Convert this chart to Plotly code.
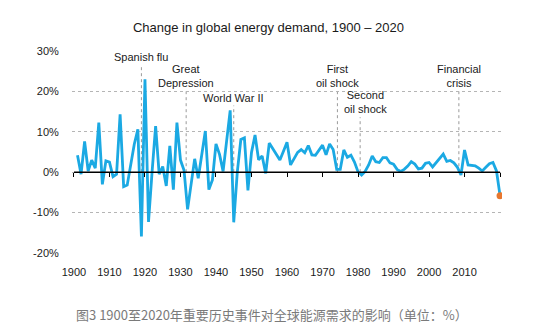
import plotly.graph_objects as go

years = list(range(1901, 2021))
change_pct = [
    4.2, -0.5, 7.6, 0.3, 3.0, 1.0, 12.3, -3.0, 2.8, 2.5,          # 1901-1910
    -1.1, -0.5, 14.3, -3.6, -3.2, 2.0, 7.0, 10.6, -15.9, 23.0,    # 1911-1920
    -12.3, 0.0, 11.4, -0.5, 1.4, -3.4, 6.5, -4.3, 12.3, 3.0,      # 1921-1930
    0.5, -9.2, -3.0, 3.3, -1.5, 4.0, 10.2, -4.3, -1.9, 7.0,       # 1931-1940
    4.4, 0.2, 7.5, 15.3, -12.4, 0.0, 8.1, 8.5, -4.5, 4.9,         # 1941-1950
    9.2, 3.1, 4.0, -0.3, 7.2, 5.8, 4.5, 3.0, 5.2, 7.4,            # 1951-1960
    1.8, 3.4, 4.9, 5.6, 4.8, 6.6, 4.3, 4.2, 5.4, 6.7,             # 1961-1970
    4.3, 7.0, 5.6, 0.7, 0.7, 5.5, 3.7, 4.2, 2.5, 0.1,             # 1971-1980
    -0.7, 0.2, 1.8, 4.0, 2.6, 2.4, 3.6, 3.6, 2.3, 2.0,            # 1981-1990
    0.7, 0.2, 0.7, 1.5, 2.6, 2.0, 0.8, 1.0, 2.2, 2.4,             # 1991-2000
    1.3, 2.3, 3.4, 4.5, 2.7, 2.9, 2.3, 1.2, -0.7, 5.5,            # 2001-2010
    1.8, 1.7, 1.6, 1.0, 0.3, 1.2, 2.1, 2.4, 0.3, -5.8,            # 2011-2020
]

event_labels = ["Spanish flu", "Great<br>Depression", "World War II",
                "First<br>oil shock", "Second<br>oil shock", "Financial<br>crisis"]
event_years = [1919, 1931.6, 1945, 1974.2, 1980.6, 2008.4]
event_tops = [26.5, 20.0, 16.5, 20.0, 13.6, 20.0]
event_shift = [0, 0, 0, 0, 5, 0]

x_tick_labels = [str(y) for y in range(1900, 2011, 10)]
axis_ticks = list(range(1900, 2021, 10))
y_ticks = [-20, -10, 0, 10, 20, 30]

LINE = "#1BA9E3"
DOT = "#E8772E"
TXT = "#1a1a1a"
FONT = "Liberation Sans, Arial, sans-serif"

fig = go.Figure()
fig.add_trace(go.Scatter(x=years, y=change_pct, mode="lines",
                         line=dict(color=LINE, width=2.8), showlegend=False,
                         hoverinfo="skip"))
fig.add_trace(go.Scatter(x=[years[-1]], y=[change_pct[-1]], mode="markers",
                         marker=dict(color=DOT, size=7), showlegend=False,
                         hoverinfo="skip"))
# dummy trace so the zero-line tick axis is drawn
fig.add_trace(go.Scatter(x=[None], y=[None], xaxis="x2", showlegend=False,
                         hoverinfo="skip"))

shapes = [dict(type="line", xref="x", yref="y", x0=axis_ticks[0], x1=axis_ticks[-1],
               y0=0, y1=0, line=dict(color="black", width=1.5), layer="above")]
annotations = []
for lab, yr, top, sh in zip(event_labels, event_years, event_tops, event_shift):
    shapes.append(dict(type="line", xref="x", yref="y", x0=yr, x1=yr, y0=0, y1=top,
                       line=dict(color="#9a9a9a", width=1, dash="dot"), layer="below"))
    annotations.append(dict(x=yr, y=top, xref="x", yref="y", text=lab, showarrow=False,
                            yanchor="bottom", xanchor="center", xshift=sh,
                            font=dict(family=FONT, size=11, color=TXT)))

annotations.append(dict(
    x=0.465, y=-0.305, xref="paper", yref="paper", xanchor="center", yanchor="middle",
    showarrow=False, text="图3 1900至2020年重要历史事件对全球能源需求的影响（单位：%）",
    font=dict(family="Noto Sans CJK SC, sans-serif", size=13, color="#7a7a7a")))

x0, x1 = 1899.45, 2020.55
fig.update_layout(
    width=537, height=333,
    margin=dict(l=72, r=35, t=51, b=80),
    paper_bgcolor="white", plot_bgcolor="white",
    font=dict(family=FONT, size=11, color=TXT),
    title=dict(text="Change in global energy demand, 1900 – 2020",
               x=0.5, xanchor="center", y=0.919, yanchor="middle",
               font=dict(family=FONT, size=13, color=TXT)),
    xaxis=dict(range=[x0, x1], tickvals=axis_ticks[:-1], ticktext=x_tick_labels,
               showgrid=False, zeroline=False, showline=False,
               ticks="outside", ticklen=9, tickcolor="rgba(0,0,0,0)",
               tickfont=dict(family=FONT, size=11, color=TXT)),
    xaxis2=dict(range=[x0, x1], overlaying="x", anchor="free", position=0.4,
                tickvals=axis_ticks, showticklabels=False, showgrid=False,
                zeroline=False, showline=False, ticks="outside", ticklen=4,
                tickwidth=1.2, tickcolor="black"),
    yaxis=dict(range=[-20, 30], tickvals=y_ticks,
               ticktext=[f"{v}%" for v in y_ticks],
               showgrid=True, gridcolor="#b5b5b5", griddash="dot", gridwidth=1,
               zeroline=False, showline=False,
               ticks="outside", ticklen=10, tickcolor="rgba(0,0,0,0)",
               tickfont=dict(family=FONT, size=11, color=TXT)),
    shapes=shapes,
    annotations=annotations,
)

fig.write_html("out.html")
